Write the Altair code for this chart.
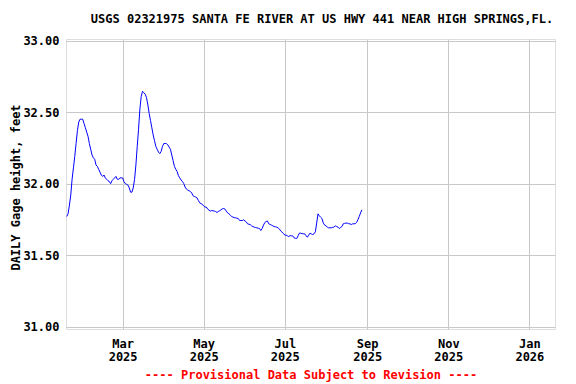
import altair as alt
import pandas as pd

title_text = "USGS 02321975 SANTA FE RIVER AT US HWY 441 NEAR HIGH SPRINGS,FL."
footer_text = "---- Provisional Data Subject to Revision ----"
y_title = "DAILY Gage height, feet"

start_date = "2025-01-18"
jan = [31.77, 31.79, 31.85, 31.92, 32.03, 32.11, 32.19, 32.28, 32.37, 32.43, 32.45, 32.45, 32.45, 32.42]
feb = [32.39, 32.36, 32.33, 32.28, 32.24, 32.20, 32.18, 32.17, 32.13, 32.12, 32.10, 32.08, 32.06, 32.05,
       32.06, 32.04, 32.03, 32.02, 32.015, 32.00, 32.02, 32.03, 32.04, 32.05, 32.03, 32.03, 32.04, 32.04]
mar = [32.04, 32.015, 32.00, 31.995, 31.99, 31.97, 31.94, 31.94, 31.97, 32.03,
       32.13, 32.26, 32.38, 32.52, 32.61, 32.645, 32.635, 32.625, 32.60, 32.55,
       32.49, 32.44, 32.39, 32.34, 32.30, 32.26, 32.24, 32.22, 32.21, 32.225, 32.26]
apr = [32.28, 32.28, 32.28, 32.27, 32.255, 32.24, 32.20, 32.16, 32.12, 32.10,
       32.085, 32.055, 32.04, 32.025, 32.015, 32.00, 31.976, 31.962, 31.955, 31.95,
       31.945, 31.934, 31.915, 31.91, 31.906, 31.90, 31.882, 31.866, 31.86, 31.855]
may = [31.843, 31.836, 31.836, 31.822, 31.815, 31.808, 31.812, 31.81, 31.808, 31.805,
       31.798, 31.805, 31.81, 31.817, 31.824, 31.826, 31.822, 31.808, 31.795, 31.789,
       31.78, 31.77, 31.766, 31.762, 31.761, 31.758, 31.756, 31.742, 31.742, 31.742, 31.747]
jun = [31.74, 31.733, 31.719, 31.716, 31.714, 31.705, 31.70, 31.696, 31.693, 31.691,
       31.688, 31.686, 31.672, 31.686, 31.71, 31.728, 31.736, 31.738, 31.719, 31.714,
       31.71, 31.705, 31.70, 31.698, 31.696, 31.69, 31.682, 31.668, 31.66, 31.652]
jul = [31.640, 31.640, 31.635, 31.630, 31.637, 31.635, 31.635, 31.621, 31.618, 31.616,
       31.635, 31.654, 31.654, 31.65, 31.649, 31.649, 31.635, 31.626, 31.64, 31.654,
       31.648, 31.644, 31.649, 31.663, 31.724, 31.789, 31.775, 31.765, 31.756, 31.724, 31.71]
aug = [31.705, 31.696, 31.691, 31.691, 31.691, 31.694, 31.696, 31.705, 31.70, 31.696,
       31.686, 31.693, 31.70, 31.719, 31.722, 31.724, 31.724, 31.72, 31.719, 31.714,
       31.719, 31.719, 31.72, 31.728, 31.747, 31.77, 31.794, 31.817]

y_ticks = [31.0, 31.5, 32.0, 32.5, 33.0]
x_ticks = [(2025, 3), (2025, 5), (2025, 7), (2025, 9), (2025, 11), (2026, 1)]

values = jan + feb + mar + apr + may + jun + jul + aug
dates = pd.date_range(start_date, periods=len(values), freq="D").strftime("%Y-%m-%d")
df = pd.DataFrame({"date": dates, "value": values})

FONT = "DejaVu Sans Mono"
W, H = 489, 290

x_enc = alt.X(
    "date:T",
    scale=alt.Scale(
        type="utc",
        domain=[alt.DateTime(year=2025, month=1, date=17, hours=10, utc=True),
                alt.DateTime(year=2026, month=1, date=20, hours=7, utc=True)],
    ),
    axis=alt.Axis(
        values=[alt.DateTime(year=y, month=m, date=1, utc=True) for y, m in x_ticks],
        labelExpr="[utcFormat(datum.value, '%b'), utcFormat(datum.value, '%Y')]",
        title=None,
        grid=True,
        ticks=False,
        domain=False,
        labelPadding=9,
        labelLineHeight=13,
        labelFont=FONT,
        labelFontSize=12,
        labelFontWeight="bold",
        labelColor="black",
        gridColor="#c8c8c8",
        gridWidth=1,
    ),
)
y_enc = alt.Y(
    "value:Q",
    scale=alt.Scale(domain=[30.984, 33.0105], nice=False, zero=False),
    axis=alt.Axis(
        values=y_ticks,
        format=".2f",
        title=y_title,
        grid=True,
        ticks=False,
        domain=False,
        labelPadding=7,
        labelFont=FONT,
        labelFontSize=12,
        labelFontWeight="bold",
        labelColor="black",
        gridColor="#c8c8c8",
        gridWidth=1,
        titleFont=FONT,
        titleFontSize=12,
        titleFontWeight="bold",
        titleColor="black",
        titleX=-51,
        titleY=148,
        titleAngle=270,
        titleBaseline="middle",
        titleAlign="center",
    ),
)

line = alt.Chart(df).mark_line(color="#0000ff", strokeWidth=1).encode(x=x_enc, y=y_enc)

title_df = pd.DataFrame({"t": [title_text]})
title_mark = alt.Chart(title_df).mark_text(
    font=FONT, fontSize=12, fontWeight="bold", color="black", align="center", baseline="alphabetic"
).encode(text="t:N", x=alt.value(256), y=alt.value(-16))

footer_df = pd.DataFrame({"t": [footer_text]})
footer_mark = alt.Chart(footer_df).mark_text(
    font=FONT, fontSize=12, fontWeight="bold", color="#ff0000", align="center", baseline="alphabetic"
).encode(text="t:N", x=alt.value(245), y=alt.value(340))

chart = alt.layer(line, title_mark, footer_mark).properties(
    width=W,
    height=H,
    autosize=alt.AutoSizeParams(type="none"),
    padding={"left": 58, "top": 31, "right": 13, "bottom": 55},
).configure_view(stroke="black", strokeWidth=1.5).configure(background="white")

chart.save("out.html", embed_options={"renderer": "svg", "actions": False})
